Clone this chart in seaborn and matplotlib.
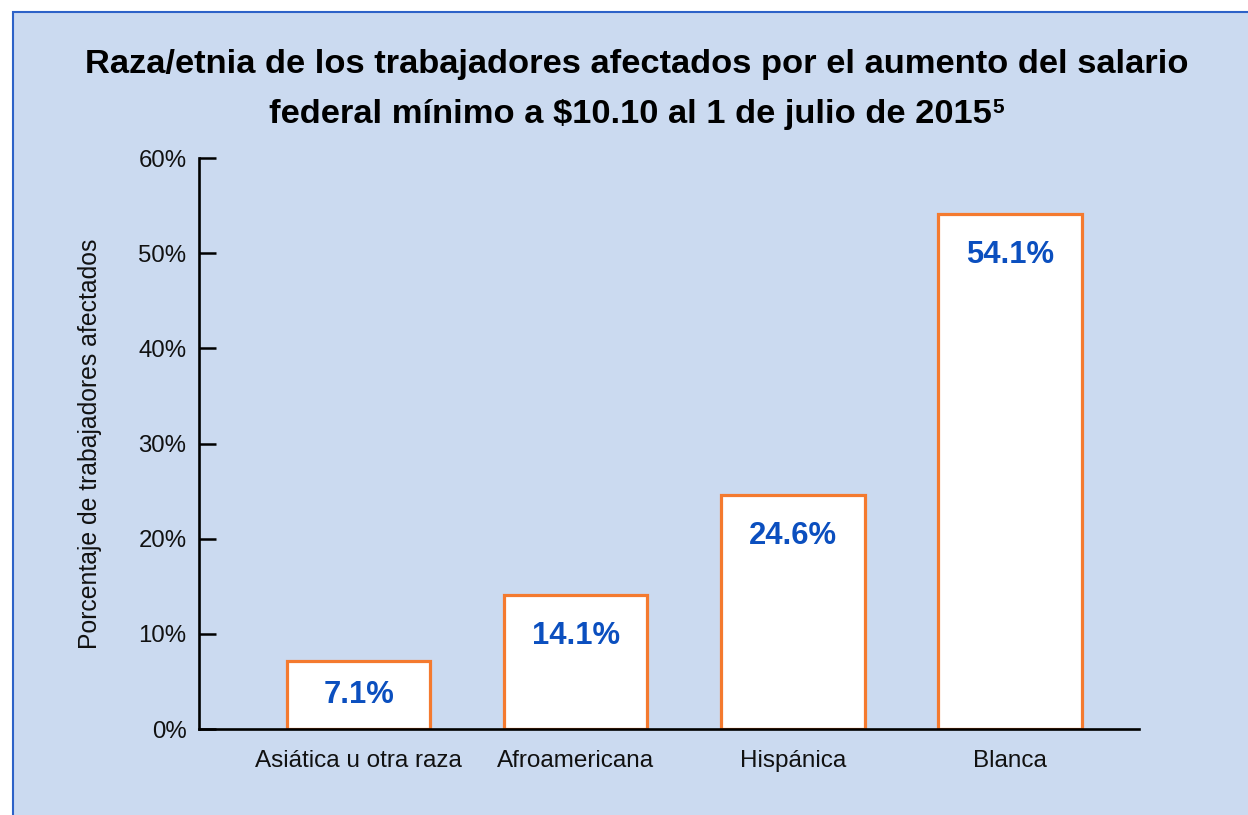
import matplotlib
matplotlib.use("Agg")
import matplotlib.pyplot as plt
import seaborn as sns
import pandas as pd
from matplotlib.patches import Rectangle

categories = ["Asiática u otra raza", "Afroamericana", "Hispánica", "Blanca"]
values = [7.1, 14.1, 24.6, 54.1]
yticks = [0, 10, 20, 30, 40, 50, 60]
ytick_labels = ["0%", "10%", "20%", "30%", "40%", "50%", "60%"]

title_line1 = "Raza/etnia de los trabajadores afectados por el aumento del salario"
title_line2 = "federal mínimo a $10.10 al 1 de julio de 2015"
title_sup = "5"
ylabel = "Porcentaje de trabajadores afectados"

BG = "#cbdaf0"
ORANGE = "#f47a2f"
BLUE = "#0b4fbf"
BORDER = "#2d62c8"

sns.set_theme(style="white")
plt.rcParams["font.family"] = ["Liberation Sans", "DejaVu Sans"]

fig = plt.figure(figsize=(12.48, 8.15), dpi=100, facecolor="white")
fig.patches.append(Rectangle((13 / 1248, -0.05), 1.2, 1.05 - 12 / 815,
                             transform=fig.transFigure, facecolor=BG,
                             edgecolor=BORDER, linewidth=1.5, zorder=-10))

ax = fig.add_axes([199 / 1248, 1 - 729 / 815, (1139 - 199) / 1248, (729 - 158) / 815])
ax.set_facecolor(BG)

df = pd.DataFrame({"cat": categories, "val": values})
sns.barplot(data=df, x="cat", y="val", color="white", saturation=1,
            edgecolor=ORANGE, linewidth=2.3, width=0.66, ax=ax, zorder=3)

for i, v in enumerate(values):
    ypos = max(v - 4.3, v / 2)
    ax.text(i, ypos, f"{v:.1f}%", ha="center", va="center",
            fontsize=22.3, fontweight="bold", color=BLUE, zorder=5)

ax.set_xlim(-0.735, 3.594)
ax.set_ylim(0, 60)
ax.set_yticks(yticks)
ax.set_yticklabels(ytick_labels)
ax.tick_params(axis="y", direction="in", length=12, width=1.8, color="black",
               labelsize=17.3, pad=9, left=True, labelcolor="#111111")
ax.tick_params(axis="x", length=0, labelsize=17.5, pad=15, labelcolor="#111111")
ax.set_xlabel("")
ax.set_ylabel(ylabel, fontsize=17.8, labelpad=26, color="#111111")

for s in ["top", "right"]:
    ax.spines[s].set_visible(False)
for s in ["left", "bottom"]:
    ax.spines[s].set_visible(True)
    ax.spines[s].set_color("black")
    ax.spines[s].set_linewidth(1.9)
    ax.spines[s].set_zorder(6)

TFS = 24.8
fig.text(636.5 / 1248, 1 - 73 / 815, title_line1, ha="center", va="baseline",
         fontsize=TFS, fontweight="bold", color="black")
t2 = fig.text(630 / 1248, 1 - 123 / 815, title_line2, ha="center", va="baseline",
              fontsize=TFS, fontweight="bold", color="black")
fig.canvas.draw()
bb = t2.get_window_extent(renderer=fig.canvas.get_renderer())
fig.text((bb.x1 + 1) / 1248, 1 - 98 / 815, title_sup, ha="left", va="top",
         fontsize=15, fontweight="bold", color="black")

fig.savefig("out.png", dpi=100, facecolor=fig.get_facecolor())
